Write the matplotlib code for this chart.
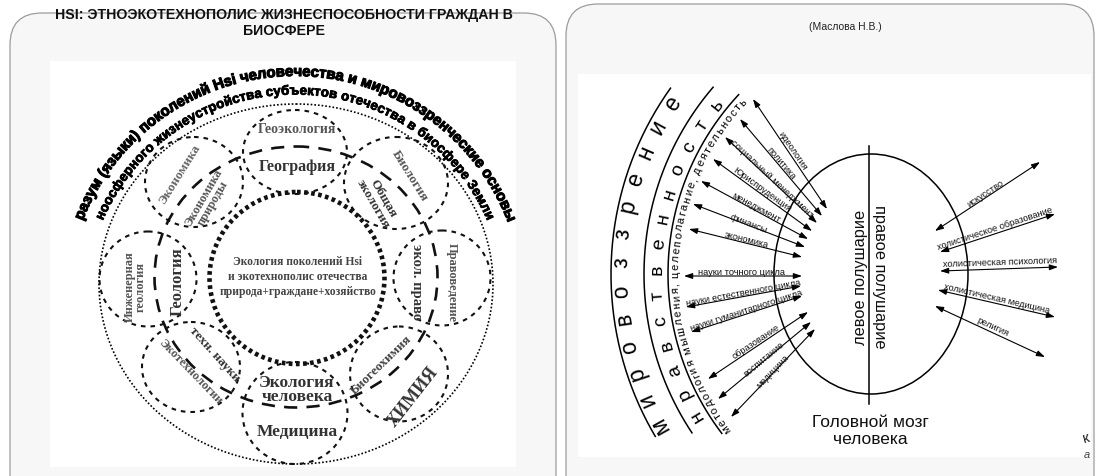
import numpy as np
import matplotlib
matplotlib.use("Agg")
import matplotlib.pyplot as plt
from matplotlib.patches import Ellipse, FancyBboxPatch, Rectangle
from matplotlib.font_manager import FontProperties, findfont, get_font
import matplotlib.patheffects as pe

# ---------------- texts (content of the figure) ----------------
title_lines = ["HSI: ЭТНОЭКОТЕХНОПОЛИС ЖИЗНЕСПОСОБНОСТИ ГРАЖДАН В", "БИОСФЕРЕ"]
author = "(Маслова Н.В.)"
arc_outer_text = "разум (языки) поколений Hsi человечества и мировоззренческие основы"
arc_inner_text = "ноосферного жизнеустройства субъектов отечества в биосфере Земли"
center_text = ["Экология поколений Hsi", "и экотехнополис отечества", "природа+граждане+хозяйство"]
ring_labels = ["Геоэкология", "География", "Экономика", "Экономика\nприроды", "Биология",
               "Общая\nэкология", "Инженерная\nгеология", "Геология", "экол. право",
               "Правоведение", "техн. науки", "Экотехнологии", "Экология\nчеловека",
               "Медицина", "Биогеохимия", "ХИМИЯ"]
ring_rot = [0, 0, 58, 60, -58, -60, 90, 90, -90, -90, -48, -46, 0, 0, 44, 52]
ring_size = [10, 11.5, 9.5, 9, 9.5, 9.5, 9, 12, 10.5, 9, 9.5, 9, 12.5, 12.5, 9.5, 13]
ring_color = ["#555", "#333", "#666", "#555", "#555", "#333", "#555", "#333", "#333",
              "#555", "#333", "#555", "#333", "#333", "#444", "#333"]
left_arrow_labels = ["идеология", "политика", "социальный менеджмент", "Юриспруденция",
                     "менеджмент", "финансы", "экономика", "науки точного цикла",
                     "науки естественного цикла", "науки гуманитарного цикла",
                     "образование", "воспитание", "медицина"]
right_arrow_labels = ["искусство", "холистическое образование", "холистическая психология",
                      "холистическая медицина", "религия"]
arc_words = ["мировоззрение", "нравственность",
             "методология мышления, целеполагание, деятельность"]
hemispheres = ["левое полушарие", "правое полушарие"]
brain_caption = "Головной мозг\nчеловека"

# ---------------- geometry (pixel layout of the diagram) ----------------
ring_xy = [(297, 130), (297, 167), (180, 175), (208, 201), (410, 176), (378, 201),
           (135, 287), (178, 282), (417, 282), (452, 283), (215, 355), (190, 372),
           (297, 390), (297, 432), (381, 365), (413, 397)]
small_circles = [((295, 153), 104, 84), ((194, 183), 98, 90), ((396, 184), 104, 92),
                 ((148, 280), 97, 95), ((442, 279), 97, 95), ((295, 414), 105, 102),
                 ((191, 368), 98, 90), ((399, 375), 98, 95)]
left_arrow_start = [(753, 100), (740, 120), (725, 138), (713, 160), (701, 182), (693, 205),
                    (689, 230), (684, 277), (686, 308), (691, 333), (708, 380), (718, 400),
                    (731, 418)]
left_arrow_end = [(827, 210), (822, 217), (817, 224), (812, 232), (808, 240), (805, 248),
                  (802, 258), (802, 277), (801, 287), (802, 297), (808, 313), (811, 323),
                  (815, 330)]
left_label_xy = [(793, 151), (781, 163), (772, 179), (762, 190), (756, 208), (749, 224),
                 (746, 240), (742, 273), (743, 293), (746, 311), (756, 342), (764, 359),
                 (773, 372)]
right_arrow_start = [(935, 232), (940, 253), (940, 272), (938, 291), (935, 307)]
right_arrow_end = [(1040, 163), (1055, 215), (1058, 268), (1055, 318), (1045, 358)]
right_label_xy = [(985, 194), (995, 229), (1000, 263), (997, 299), (993, 327)]

W, H = 1096, 477
fig = plt.figure(figsize=(W / 100, H / 100), dpi=100)
fig.patch.set_facecolor("white")
ax = fig.add_axes([0, 0, 1, 1])
ax.set_xlim(0, W)
ax.set_ylim(H, 0)
ax.axis("off")

SANS = ["Liberation Sans", "DejaVu Sans"]
NARROW = ["Liberation Sans Narrow", "Liberation Sans", "DejaVu Sans"]
SERIF = ["Liberation Serif", "DejaVu Serif"]


def advances(s, fp):
    font = get_font(findfont(fp))
    font.set_size(fp.get_size_in_points(), 72)
    out = []
    for c in s:
        g = font.load_char(ord(c))
        out.append(g.linearHoriAdvance / 65536.0)
    return np.array(out)


def arc_text(s, cx, cy, r, t0, t1, size, weight="normal", family=SANS, color="k",
             even=False, stroke=0):
    fp = FontProperties(family=family, size=size, weight=weight)
    if even:
        chars = [c for c in s]
        fr = np.linspace(0, 1, len(chars))
    else:
        adv = advances(s, fp)
        cum = np.concatenate([[0], np.cumsum(adv)])
        mids = (cum[:-1] + cum[1:]) / 2
        fr = (mids - mids[0]) / (mids[-1] - mids[0])
        chars = list(s)
    for c, f in zip(chars, fr):
        if c == " ":
            continue
        th = np.radians(t0 + (t1 - t0) * f)
        x = cx + r * np.cos(th)
        y = cy - r * np.sin(th)
        t = ax.text(x, y, c, fontproperties=fp, color=color, rotation=np.degrees(th) - 90,
                    rotation_mode="anchor", ha="center", va="baseline")
        if stroke:
            t.set_path_effects([pe.withStroke(linewidth=stroke, foreground=color)])


# ---------------- panels ----------------
ax.add_patch(FancyBboxPatch((10, 14), 546, 540, boxstyle="round,pad=0,rounding_size=32",
                            fc="#f7f7f7", ec="#9c9c9c", lw=0.9))
ax.add_patch(FancyBboxPatch((566, 5), 528, 540, boxstyle="round,pad=0,rounding_size=32",
                            fc="#f7f7f7", ec="#9c9c9c", lw=0.9))
ax.add_patch(Rectangle((50, 62), 466, 406, fc="white", ec="none"))
ax.add_patch(Rectangle((578, 75), 513, 383, fc="white", ec="none"))

# title & author
ax.text(284, 15.5, title_lines[0], family=NARROW, weight="bold", fontsize=10.2,
        ha="center", va="center", color="#111")
ax.text(284, 31, title_lines[1], family=NARROW, weight="bold", fontsize=10.2,
        ha="center", va="center", color="#111")
ax.text(845, 27, author, family=SANS, fontsize=7.5, ha="center", va="center", color="#222")

# ---------------- left diagram ----------------
ax.add_patch(Ellipse((296, 285), 394, 360, fill=False, ec="k", lw=1.2, ls=(0, (1, 1.2))))
ax.add_patch(Ellipse((296, 278), 283, 261, fill=False, ec="#111", lw=1.9, ls=(0, (5, 3.5))))
for (c, w, h) in small_circles:
    ax.add_patch(Ellipse(c, w, h, fill=False, ec="#111", lw=1.5, ls=(0, (2.2, 2.4))))
ax.add_patch(Ellipse((297, 279), 175, 172, fill=False, ec="#111", lw=3.3, ls=(0, (0.8, 0.75))))

for txt, (x, y), rot, sz, col in zip(ring_labels, ring_xy, ring_rot, ring_size, ring_color):
    ax.text(x, y, txt, family=SERIF, weight="bold", fontsize=sz, color=col, rotation=rot,
            rotation_mode="anchor", ha="center", va="center", linespacing=0.9)

for i, line in enumerate(center_text):
    ax.text(298, 262 + 15 * i, line, family=SERIF, weight="bold", fontsize=8.3, color="#444",
            ha="center", va="center")

arc_text(arc_outer_text, 295, 305, 228, 157.5, 22.5, 10.8, weight="bold", stroke=0.8)
arc_text(arc_inner_text, 295, 305, 209.5, 155.5, 24.5, 9.6, weight="bold", stroke=0.6)

# ---------------- right diagram ----------------
cxr, cyr = 931, 275
for r, a0, a1 in [(320, 144.5, 210.5), (287, 139.4, 213.6), (263, 137, 217.3)]:
    th = np.radians(np.linspace(a0, a1, 200))
    ax.plot(cxr + r * np.cos(th), cyr - r * np.sin(th), color="k", lw=1.1)

arc_text(arc_words[0], cxr, cyr, 304, 209, 146.3, 16.5, even=True)
arc_text(arc_words[1], cxr, cyr, 269, 211, 141.5, 14, even=True)
arc_text(arc_words[2], cxr, cyr, 252.5, 217, 137.5, 8)

# brain
ax.add_patch(Ellipse((871, 275), 194, 240, fill=False, ec="k", lw=1.1))
ax.plot([869, 869], [147, 405], color="k", lw=1.1)
ax.text(860, 277, hemispheres[0], family=SANS, fontsize=11.8, rotation=90,
        ha="center", va="center", color="#111")
ax.text(879, 277, hemispheres[1], family=SANS, fontsize=11.8, rotation=-90,
        ha="center", va="center", color="#111")
ax.text(870, 431, brain_caption, family=NARROW, fontsize=12.5, ha="center", va="center",
        color="#111", linespacing=1.15)

arrow_kw = dict(arrowstyle="<|-|>,head_length=0.5,head_width=0.17", lw=0.8, color="k",
                shrinkA=0, shrinkB=0, mutation_scale=10)


def draw_arrows(starts, ends, labels, lxy):
    for (x1, y1), (x2, y2), lab, (lx, ly) in zip(starts, ends, labels, lxy):
        ax.annotate("", xy=(x2, y2), xytext=(x1, y1), arrowprops=arrow_kw)
        ang = np.degrees(np.arctan2(-(y2 - y1), x2 - x1))
        ax.text(lx, ly, lab, family=SANS, fontsize=6.7, rotation=ang, rotation_mode="anchor",
                ha="center", va="center", color="#111")


draw_arrows(left_arrow_start, left_arrow_end, left_arrow_labels, left_label_xy)
draw_arrows(right_arrow_start, right_arrow_end, right_arrow_labels, right_label_xy)

# handwritten marks at the right edge
ax.text(1086, 438, "к", family=SANS, fontsize=11, rotation=15, ha="center", va="center",
        color="#222")
ax.text(1087, 455, "a", family=SANS, fontsize=8, style="italic", ha="center", va="center",
        color="#444")

fig.savefig("out.png", dpi=100)
